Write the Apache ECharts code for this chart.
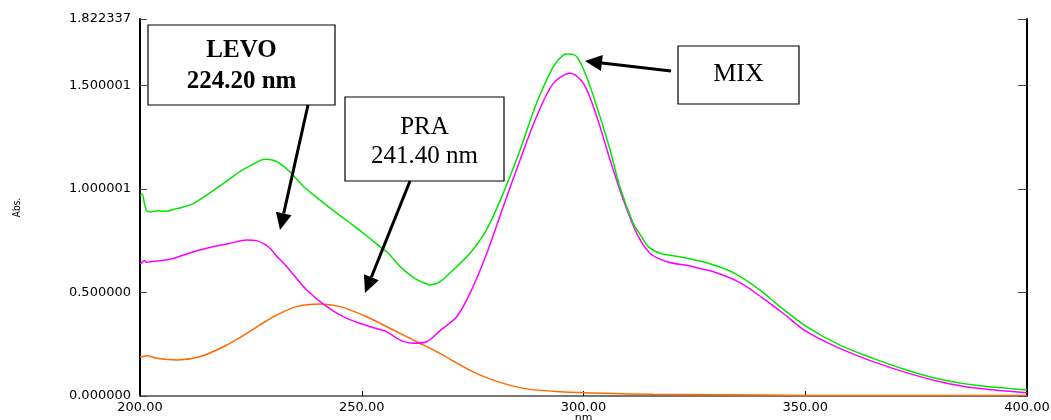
<!DOCTYPE html>
<html>
<head>
<meta charset="utf-8">
<script src="https://cdn.jsdelivr.net/npm/echarts@6/dist/echarts.min.js"></script>
<style>
  html, body { margin: 0; background: #fff; }
  #chart { width: 1051px; height: 420px; }
</style>
</head>
<body>
<div id="chart"></div>
<script>
// spectra (wavelength nm / absorbance)
const mixNm = [200.0, 200.5, 201.0, 201.5, 202.3, 204, 206, 208, 209, 212, 215, 219, 222.5, 225, 228.2, 230, 231.5, 233.8, 237, 240.6, 244, 248, 251, 254.1, 256, 257.9, 260, 262.5, 264.5, 265.4, 267.6, 270.6, 274.4, 278.1, 281.9, 285.7, 289.4, 293.2, 295.4, 296.6, 298.5, 300.7, 303.0, 306.0, 308.2, 311.2, 312.7, 314.6, 317.3, 322.5, 327.8, 333.8, 339.8, 344.3, 350.3, 357.8, 365.3, 372.8, 380.4, 387.9, 400]
const mixAbs = [0.97, 0.975, 0.93, 0.895, 0.89, 0.895, 0.893, 0.905, 0.909, 0.93, 0.971, 1.03, 1.084, 1.115, 1.144, 1.14, 1.125, 1.084, 1.01, 0.947, 0.89, 0.826, 0.776, 0.722, 0.69, 0.643, 0.60, 0.561, 0.543, 0.537, 0.552, 0.609, 0.690, 0.802, 0.980, 1.189, 1.415, 1.592, 1.648, 1.653, 1.640, 1.543, 1.398, 1.189, 1.012, 0.835, 0.783, 0.722, 0.690, 0.670, 0.644, 0.596, 0.512, 0.432, 0.335, 0.246, 0.182, 0.126, 0.081, 0.053, 0.029]

const levoNm = [200.0, 200.4, 201, 201.5, 202.3, 205, 207.5, 211, 215, 220.3, 224.1, 226.3, 228, 229.3, 231, 233.1, 237.6, 242.1, 246.6, 251.9, 255.6, 258.6, 261.6, 264.6, 267.6, 271.4, 274.4, 278.2, 281.9, 285.7, 289.4, 293.2, 297.0, 300.0, 303.0, 306.0, 309.0, 312.0, 315.0, 318.8, 324.0, 329.3, 335.3, 340.5, 345.0, 350.3, 357.8, 365.3, 372.8, 380.4, 387.9, 400]
const levoAbs = [0.64, 0.644, 0.655, 0.645, 0.649, 0.655, 0.665, 0.69, 0.714, 0.738, 0.754, 0.751, 0.735, 0.714, 0.672, 0.625, 0.512, 0.432, 0.375, 0.335, 0.311, 0.271, 0.255, 0.262, 0.315, 0.383, 0.496, 0.690, 0.915, 1.141, 1.350, 1.511, 1.560, 1.511, 1.350, 1.141, 0.947, 0.786, 0.690, 0.649, 0.628, 0.601, 0.548, 0.472, 0.400, 0.311, 0.230, 0.166, 0.113, 0.069, 0.040, 0.016]

const praNm = [200, 200.4, 201.5, 203.8, 208.3, 213.5, 218.8, 224.1, 230.1, 235.3, 240.6, 245.1, 251.1, 257.1, 263.1, 267.6, 272.2, 276.7, 281.9, 287.9, 294.7, 304.9, 315.7, 330, 350, 400]
const praAbs = [0.19, 0.19, 0.195, 0.182, 0.174, 0.190, 0.238, 0.303, 0.383, 0.432, 0.445, 0.432, 0.383, 0.319, 0.255, 0.206, 0.150, 0.101, 0.061, 0.032, 0.021, 0.013, 0.008, 0.006, 0.003, 0.002]

const yTicks = [0, 0.5, 1.000001, 1.500001, 1.822337]

const pairs = (xs, ys) => xs.map((x, i) => [x, ys[i]])

function arrow(x1, y1, x2, y2) {
  const a = Math.atan2(y2 - y1, x2 - x1)
  const len = 17
  const half = 8
  const bx = x2 - len * Math.cos(a)
  const by = y2 - len * Math.sin(a)
  const px = -Math.sin(a) * half
  const py = Math.cos(a) * half
  return [
    { type: 'line', z: 100, shape: { x1: x1, y1: y1, x2: bx, y2: by }, style: { stroke: '#000', lineWidth: 3 } },
    { type: 'polygon', z: 100, shape: { points: [[x2, y2], [bx + px, by + py], [bx - px, by - py]] }, style: { fill: '#000' } }
  ]
}

function box(x, y, w, h, lines, bold) {
  const els = [{
    type: 'rect', z: 100,
    shape: { x: x, y: y, width: w, height: h },
    style: { fill: '#fff', stroke: '#000', lineWidth: 1.2 }
  }]
  lines.forEach(l => {
    els.push({
      type: 'text', z: 101,
      x: x + w / 2, y: l[1],
      style: {
        text: l[0], fill: '#000',
        font: (bold ? 'bold ' : '') + l[2] + 'px "Liberation Serif", serif',
        textAlign: 'center', textVerticalAlign: 'middle'
      }
    })
  })
  return els
}

const chart = echarts.init(document.getElementById('chart'))
const labelFont = { color: '#000', fontSize: 13, fontFamily: '"DejaVu Sans", sans-serif' }
const line = (data, color) => ({
  type: 'line', data: data, showSymbol: false, smooth: 0.3,
  lineStyle: { color: color, width: 1.5 }, animation: false
})

chart.setOption({
  backgroundColor: '#fff',
  grid: { left: 140, right: 24, top: 19, bottom: 24, outerBoundsMode: 'none', containLabel: false },
  xAxis: [{
    type: 'value', min: 200, max: 400, interval: 50,
    name: 'nm', nameLocation: 'middle', nameGap: 17, nameMoveOverlap: false,
    nameTextStyle: { color: '#000', fontSize: 11, fontFamily: '"DejaVu Sans", sans-serif', verticalAlign: 'top' },
    axisLine: { lineStyle: { color: '#000', width: 1.5 } },
    axisTick: { inside: true, length: 5, lineStyle: { color: '#000' } },
    axisLabel: Object.assign({ margin: 5, formatter: v => v.toFixed(2) }, labelFont),
    splitLine: { show: false }
  }, {
    type: 'value', position: 'top', min: 200, max: 400,
    axisLine: { show: true, lineStyle: { color: '#777', width: 2 } },
    axisTick: { show: false }, axisLabel: { show: false }, splitLine: { show: false }
  }],
  yAxis: [{
    type: 'value', min: 0, max: 1.822337,
    name: 'Abs.', nameLocation: 'middle', nameGap: 118,
    nameTextStyle: { color: '#000', fontSize: 10, fontFamily: '"DejaVu Sans Condensed", "DejaVu Sans", sans-serif' },
    axisLine: { show: true, lineStyle: { color: '#000', width: 2 } },
    axisTick: { show: true, inside: true, length: 7, customValues: yTicks, lineStyle: { color: '#444' } },
    axisLabel: Object.assign({ margin: 9, customValues: yTicks, formatter: v => v.toFixed(6) }, labelFont),
    splitLine: { show: false }
  }, {
    type: 'value', position: 'right', min: 0, max: 1.822337,
    axisLine: { show: true, lineStyle: { color: '#000', width: 2 } },
    axisTick: { show: true, inside: true, length: 9, customValues: yTicks, lineStyle: { color: '#444' } },
    axisLabel: { show: false }, splitLine: { show: false }
  }],
  series: [
    line(pairs(praNm, praAbs), '#ff6a00'),
    line(pairs(levoNm, levoAbs), '#ff00ff'),
    line(pairs(mixNm, mixAbs), '#00e600')
  ],
  graphic: [].concat(
    box(148, 25, 187, 80, [['LEVO', 51, 25], ['224.20 nm', 82, 25]], true),
    box(345, 97, 159, 84, [['PRA', 127, 25], ['241.40 nm', 156, 25]], false),
    box(678, 46, 121, 58, [['MIX', 74, 26]], false),
    arrow(308, 105, 280, 230),
    arrow(410, 181, 365, 293),
    arrow(671, 71, 585, 61)
  )
})
</script>
</body>
</html>
